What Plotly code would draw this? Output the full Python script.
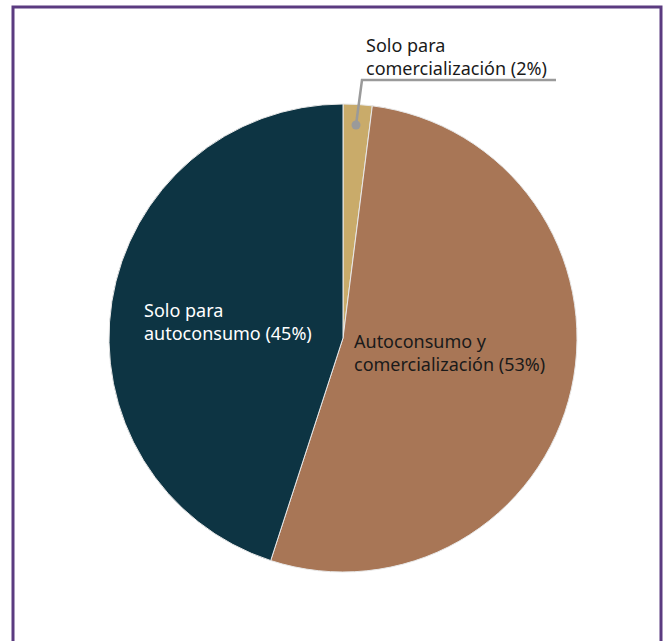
import plotly.graph_objects as go

categories = ["Solo para comercialización", "Autoconsumo y comercialización", "Solo para autoconsumo"]
label_lines = [["Solo para", "comercialización (2%)"],
               ["Autoconsumo y", "comercialización (53%)"],
               ["Solo para", "autoconsumo (45%)"]]
values = [2, 53, 45]
colors = ["#c9ab6a", "#a87656", "#0d3443"]
text_colors = ["#1a1a1a", "#1a1a1a", "#ffffff"]

W, H = 667, 641
cx, cy, r = 343, 338, 234


def px(x):
    return x / W


def py(y):
    return (H - y) / H


fig = go.Figure(go.Pie(
    labels=categories,
    values=values,
    sort=False,
    direction="clockwise",
    rotation=0,
    textinfo="none",
    hoverinfo="label+percent",
    marker=dict(colors=colors, line=dict(color="#e8e8e8", width=1)),
    domain=dict(x=[px(cx - r), px(cx + r)], y=[py(cy + r), py(cy - r)]),
    showlegend=False,
))

font_family = "Noto Sans, Open Sans, sans-serif"
FS = 18
# (left x, block centre y) in screen pixels for each label
label_pos = [(364, 56.5), (352, 352.5), (142, 321.5)]

ann = []
for lines, (lx, ly), tc in zip(label_lines, label_pos, text_colors):
    ann.append(dict(text="<br>".join(lines), x=px(lx), y=py(ly), xref="paper", yref="paper",
                    xanchor="left", yanchor="middle", align="left", showarrow=False,
                    font=dict(color=tc, size=FS, family=font_family)))

shapes = [
    # page border (open at the bottom)
    dict(type="path", xref="paper", yref="paper",
         path=f"M {px(13)} -0.05 L {px(13)} {py(7)} L {px(661)} {py(7)} L {px(661)} -0.05",
         line=dict(color="#5b3b80", width=3)),
    # leader line for the small slice
    dict(type="path", xref="paper", yref="paper",
         path=f"M {px(356)} {py(125)} L {px(362)} {py(80)} L {px(556)} {py(80)}",
         line=dict(color="#9a9a9a", width=2.5)),
    dict(type="circle", xref="paper", yref="paper",
         x0=px(351.5), x1=px(360.5), y0=py(129.5), y1=py(120.5),
         fillcolor="#9a9a9a", line=dict(width=0)),
]

fig.update_layout(
    width=W, height=H,
    margin=dict(l=0, r=0, t=0, b=0),
    paper_bgcolor="#ffffff",
    plot_bgcolor="#ffffff",
    annotations=ann,
    shapes=shapes,
    font=dict(family=font_family),
)

fig.write_html(
    "out.html",
    config={"displayModeBar": False},
    post_script="document.body.style.margin='0';document.body.style.overflow='hidden';",
)
